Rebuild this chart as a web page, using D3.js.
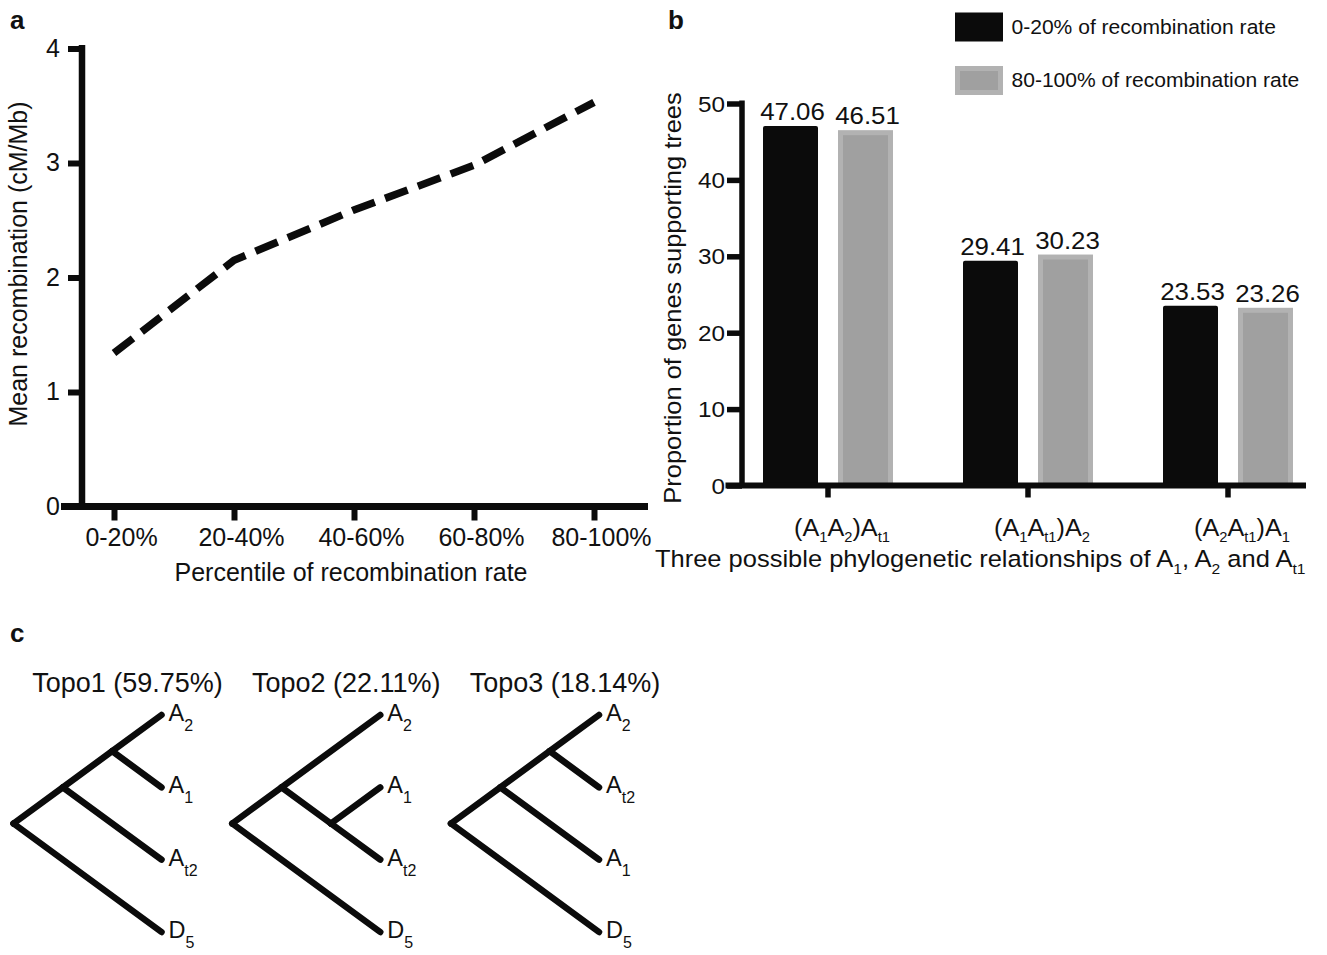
<!DOCTYPE html>
<html>
<head>
<meta charset="utf-8">
<script src="https://cdn.jsdelivr.net/npm/d3@7"></script>
<style>
  html, body { margin: 0; padding: 0; background: #fff; }
  svg { display: block; font-family: "Liberation Sans", Arial, sans-serif; }
  text { fill: #111; }
</style>
</head>
<body>
<div id="chart"></div>
<script>
/* a: mean recombination per percentile; b: gene-tree support; c: three topologies */

var pctLabels = ["0-20%", "20-40%", "40-60%", "60-80%", "80-100%"];
var meanRecomb = [1.34, 2.15, 2.59, 2.98, 3.53];
var recombTicks = [0, 1, 2, 3, 4];

var relationLabels = ["(A{1}A{2})A{t1}", "(A{1}A{t1})A{2}", "(A{2}A{t1})A{1}"];
var seriesNames = ["0-20% of recombination rate", "80-100% of recombination rate"];
var lowRecomb = [47.06, 29.41, 23.53];
var highRecomb = [46.51, 30.23, 23.26];
var proportionTicks = [0, 10, 20, 30, 40, 50];

var topoNames = ["Topo1 (59.75%)", "Topo2 (22.11%)", "Topo3 (18.14%)"];
var topoTrees = [
  [[["A{2}", "A{1}"], "A{t2}"], "D{5}"],
  [["A{2}", ["A{1}", "A{t2}"]], "D{5}"],
  [[["A{2}", "A{t2}"], "A{1}"], "D{5}"]
];

var W = 1327, H = 955;
var ink = "#0b0b0b";

var svg = d3.select("#chart").append("svg")
  .attr("width", W).attr("height", H)
  .attr("viewBox", "0 0 " + W + " " + H);
svg.append("rect").attr("width", W).attr("height", H).attr("fill", "#fff");

/* text with {sub} pieces, inside a group so it can be stretched horizontally */
function rich(parent, str, o) {
  var g = parent.append("g")
    .attr("transform", "translate(" + o.x + "," + o.y + ")" + (o.rotate ? " rotate(" + o.rotate + ")" : "") + " scale(" + (o.sx || 1) + ",1)");
  var t = g.append("text")
    .attr("text-anchor", o.anchor || "start")
    .attr("font-size", o.size)
    .attr("font-weight", o.weight || "normal");
  var shift = 0;
  str.split(/(\{[^}]*\})/).forEach(function (p) {
    if (!p) return;
    if (p[0] === "{") {
      t.append("tspan").attr("font-size", o.subSize).attr("dy", o.subShift - shift).text(p.slice(1, -1));
      shift = o.subShift;
    } else {
      t.append("tspan").attr("dy", -shift).text(p);
      shift = 0;
    }
  });
  return t;
}

/* ---------- panel a ---------- */
var ga = svg.append("g");
var xA = d3.scalePoint().domain(pctLabels).range([114, 594]);
var yA = d3.scaleLinear().domain([0, 4]).range([506.5, 48.5]);

ga.append("g").attr("transform", "translate(82,0)")
  .call(d3.axisLeft(yA).tickValues(recombTicks).tickSize(14).tickPadding(8).tickFormat(d3.format("d")))
  .call(function (s) {
    s.select(".domain").remove();
    s.selectAll("line").attr("stroke", ink).attr("stroke-width", 6);
    s.selectAll("text").attr("font-size", 25).attr("font-family", null).attr("fill", "#111").attr("dy", "0.3em");
  });
ga.append("g").attr("transform", "translate(0," + yA(0) + ")")
  .call(d3.axisBottom(xA).tickSize(14).tickPadding(7.5))
  .call(function (s) {
    s.select(".domain").remove();
    s.selectAll("line").attr("stroke", ink).attr("stroke-width", 6);
    s.selectAll("text").attr("font-size", 25).attr("font-family", null).attr("fill", "#111").attr("dx", 7);
  });
ga.append("line").attr("x1", 82).attr("x2", 82).attr("y1", yA(4) - 3.5).attr("y2", yA(0))
  .attr("stroke", ink).attr("stroke-width", 6.5);
ga.append("line").attr("x1", 61).attr("x2", 648).attr("y1", yA(0)).attr("y2", yA(0))
  .attr("stroke", ink).attr("stroke-width", 7);

ga.append("path")
  .datum(meanRecomb)
  .attr("fill", "none").attr("stroke", ink).attr("stroke-width", 7.5)
  .attr("stroke-dasharray", "24 11")
  .attr("d", d3.line().x(function (d, i) { return xA(pctLabels[i]); }).y(function (d) { return yA(d); }));

rich(ga, "Percentile of recombination rate", { x: 351, y: 581, anchor: "middle", size: 25 });
rich(ga, "Mean recombination (cM/Mb)", { x: 27, y: 264, rotate: -90, anchor: "middle", size: 25 });
rich(ga, "a", { x: 10, y: 29, size: 26, weight: "bold" });

/* ---------- panel b ---------- */
var gb = svg.append("g");
var sxB = 1.08;
var x0 = d3.scaleBand().domain(relationLabels).range([728, 1328]);
var x1 = d3.scaleBand().domain([0, 1]).range([0, x0.bandwidth()]).paddingInner(0.2667).paddingOuter(0.4667);
var yB = d3.scaleLinear().domain([0, 50]).range([485.5, 103.5]);

gb.append("g").attr("transform", "translate(742,0)")
  .call(d3.axisLeft(yB).tickValues(proportionTicks).tickSize(15).tickPadding(3).tickFormat(""))
  .call(function (s) {
    s.select(".domain").remove();
    s.selectAll("line").attr("stroke", ink).attr("stroke-width", 5.5);
  });
proportionTicks.forEach(function (v) {
  rich(gb, String(v), { x: 725, y: yB(v) + 8, anchor: "end", size: 22.5, sx: sxB });
});
gb.append("g").attr("transform", "translate(0," + yB(0) + ")")
  .call(d3.axisBottom(x0).tickSize(12).tickFormat(""))
  .call(function (s) {
    s.select(".domain").remove();
    s.selectAll("line").attr("stroke", ink).attr("stroke-width", 5.5);
  });

var bars = [lowRecomb, highRecomb];
relationLabels.forEach(function (cat, i) {
  bars.forEach(function (vals, k) {
    var v = vals[i];
    var bx = x0(cat) + x1(k), bw = x1.bandwidth();
    if (k === 0) {
      gb.append("rect").attr("x", bx).attr("y", yB(v)).attr("width", bw).attr("height", yB(0) - yB(v))
        .attr("rx", 2).attr("fill", ink);
    } else {
      gb.append("rect").attr("x", bx + 2.5).attr("y", yB(v) + 2.5).attr("width", bw - 5).attr("height", yB(0) - yB(v) - 2.5)
        .attr("fill", "#a0a0a0").attr("stroke", "#b2b2b2").attr("stroke-width", 5);
    }
    rich(gb, v.toFixed(2), { x: bx + bw / 2 + 2, y: yB(v) - 6, anchor: "middle", size: 23.5, sx: 1.1 });
  });
  rich(gb, cat, { x: x0(cat) + x0.bandwidth() / 2 + 14, y: 536, anchor: "middle", size: 24, sx: 1.05, subSize: 14, subShift: 6 });
});

gb.append("line").attr("x1", 742).attr("x2", 742).attr("y1", yB(50) - 3).attr("y2", yB(0))
  .attr("stroke", ink).attr("stroke-width", 5.5);
gb.append("line").attr("x1", 725.5).attr("x2", 1306).attr("y1", yB(0)).attr("y2", yB(0))
  .attr("stroke", ink).attr("stroke-width", 6);

/* legend */
seriesNames.forEach(function (name, i) {
  var ly = 12.5 + i * 53.5;
  if (i === 0) {
    gb.append("rect").attr("x", 955).attr("y", ly).attr("width", 48).attr("height", 29).attr("fill", ink);
  } else {
    gb.append("rect").attr("x", 957.5).attr("y", ly + 2.5).attr("width", 43).attr("height", 24)
      .attr("fill", "#a0a0a0").attr("stroke", "#b2b2b2").attr("stroke-width", 5);
  }
  rich(gb, name, { x: 1011.5, y: ly + 21, size: 19.5, sx: sxB });
});

rich(gb, "Proportion of genes supporting trees", { x: 681, y: 298, rotate: -90, anchor: "middle", size: 24, sx: 1.06 });
rich(gb, "Three possible phylogenetic relationships of A{1}, A{2} and A{t1}",
  { x: 655, y: 567, size: 24.5, sx: 1.04, subSize: 15, subShift: 7 });
rich(gb, "b", { x: 668, y: 29, size: 26, weight: "bold" });

/* ---------- panel c ---------- */
var gc = svg.append("g");
var xRoot = d3.scalePoint().domain(topoNames).range([13.5, 451]);
var treeW = 148;
var leafY = d3.scalePoint().domain([0, 1, 2, 3]).range([715, 932]);
var slope = (leafY(3) - leafY(0)) / 2 / treeW;

topoNames.forEach(function (name, t) {
  var x0t = xRoot(name), L = x0t + treeW;
  var root = d3.hierarchy(topoTrees[t], function (d) { return Array.isArray(d) ? d : null; });
  root.leaves().forEach(function (lf, i) { lf.px = L; lf.py = leafY(i); });
  root.eachAfter(function (n) {
    if (!n.children) return;
    var ys = n.leaves().map(function (l) { return l.py; });
    var lo = d3.min(ys), hi = d3.max(ys);
    n.py = (lo + hi) / 2;
    n.px = L - (hi - lo) / (2 * slope);
  });
  root.links().forEach(function (lk) {
    gc.append("line")
      .attr("x1", lk.source.px).attr("y1", lk.source.py)
      .attr("x2", lk.target.px).attr("y2", lk.target.py)
      .attr("stroke", ink).attr("stroke-width", 6.5).attr("stroke-linecap", "round");
  });
  root.leaves().forEach(function (lf) {
    rich(gc, lf.data, { x: lf.px + 7, y: lf.py + 6, size: 23.5, subSize: 16, subShift: 10 });
  });
  rich(gc, name, { x: x0t + 114, y: 691.5, anchor: "middle", size: 27 });
});
rich(gc, "c", { x: 10, y: 642, size: 26, weight: "bold" });
</script>
</body>
</html>
